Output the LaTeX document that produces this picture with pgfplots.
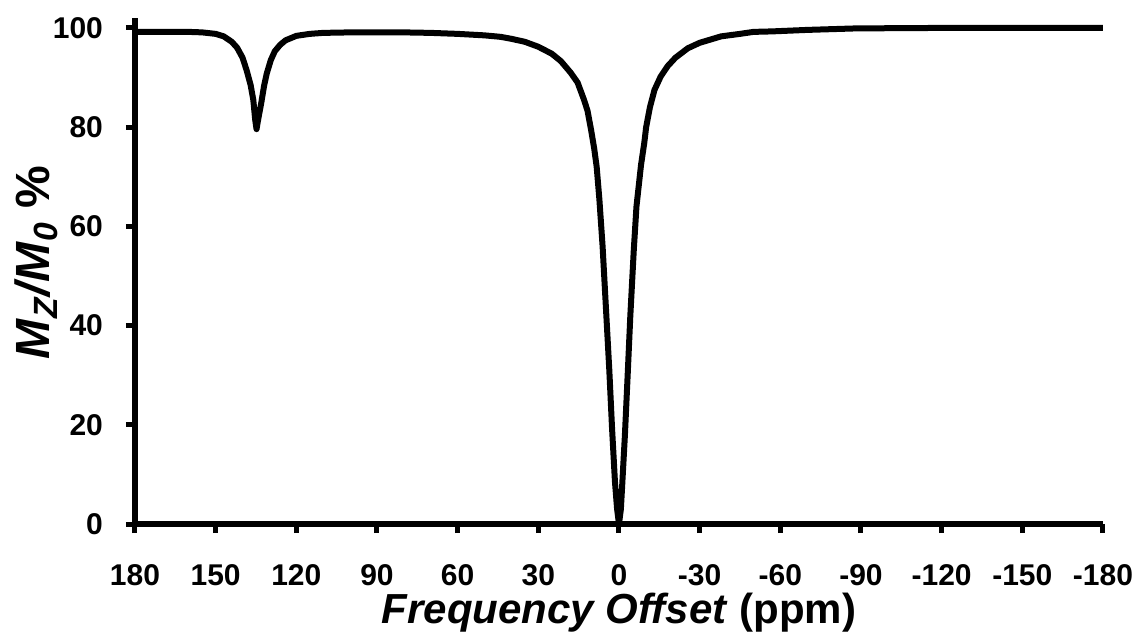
\documentclass[border=0pt]{standalone}
\usepackage{fontspec}
\setmainfont{Liberation Sans}
\usepackage{pgfplots}
\pgfplotsset{compat=1.18}

\begin{document}
\begin{tikzpicture}
\begin{axis}[
    scale only axis,
    width=484pt,
    height=253pt,
    xmin=-180, xmax=180,
    x dir=reverse,
    ymin=0, ymax=102,
    xtick={180,150,120,90,60,30,0,-30,-60,-90,-120,-150,-180},
    xticklabels={180,150,120,90,60,30,0,-30,-60,-90,-120,-150,-180},
    ytick={0,20,40,60,80,100},
    axis x line=bottom,
    axis y line=left,
    axis line style={-, line width=3pt, black},
    tick align=outside,
    major tick length=4.5pt,
    tick style={line width=2.5pt, black},
    /pgf/number format/assume math mode=true,
    ticklabel style={font=\fontsize{15}{17}\selectfont\bfseries},
    xticklabel style={anchor=base, yshift=-26pt},
    yticklabel style={anchor=east, xshift=-8pt},
    xlabel={\textbf{\textit{Frequency Offset} (ppm)}},
    xlabel style={font=\fontsize{21}{24}\selectfont, anchor=base,
        at={(axis description cs:0.5,-0.196)}},
    ylabel={\textbf{\textit{M}\textsubscript{\textit{Z}}\textit{/M}\textsubscript{\textit{0}} \%}},
    ylabel style={font=\fontsize{24}{28}\selectfont, anchor=base,
        at={(axis description cs:-0.088,0.516)}},
    clip=false,
]

% Z-spectrum
\addplot[black, line width=3pt, line join=round] coordinates {
    (180, 99.2) (170, 99.2) (160, 99.2) (155, 99.1) (150, 98.8)
    (147, 98.3) (144, 97.2) (142, 96.0) (140, 94.0) (138.5, 91.5)
    (137, 88.5) (136, 85.5) (135.3, 81.5) (134.8, 79.6) (134.2, 81.5)
    (133, 85.0) (132, 88.3) (131, 90.8) (129.5, 93.5) (128, 95.3)
    (126, 96.6) (124, 97.5) (120, 98.4) (115, 98.8) (110, 99.0)
    (100, 99.1) (90, 99.1) (80, 99.1) (70, 99.0) (60, 98.8)
    (50, 98.5) (44, 98.2) (40, 97.8) (35, 97.2) (30, 96.2)
    (25, 94.8) (21.6, 93.3) (18, 91.0) (15.4, 89.0) (13, 85.5)
    (11.7, 83.3) (10.4, 79.5) (9.2, 75.6) (8.3, 72.0) (7.3, 65.5)
    (6.1, 56.0) (4.8, 43.0) (3.6, 31.0) (2.6, 19.5) (1.5, 8.5)
    (0.7, 3.0) (0, 0) (-0.7, 3.0) (-1.1, 6.9) (-2.2, 17.9)
    (-3.2, 29.7) (-4.2, 41.8) (-5.5, 55.2) (-6.5, 64.0) (-8.2, 72.4)
    (-9.4, 76.8) (-10.1, 80.0) (-11.5, 84.0) (-13.2, 87.5) (-15.5, 90.2)
    (-18.1, 92.3) (-21, 94.0) (-25.6, 95.9) (-30, 97.0) (-38, 98.3)
    (-45, 98.8) (-50, 99.2) (-57, 99.3) (-70, 99.6) (-88, 99.9)
    (-120, 100) (-150, 100) (-180, 100)
};

\end{axis}
\pgfresetboundingbox
\path (-67.5pt,-56.5pt) rectangle (502pt,262pt);
\end{tikzpicture}
\end{document}
